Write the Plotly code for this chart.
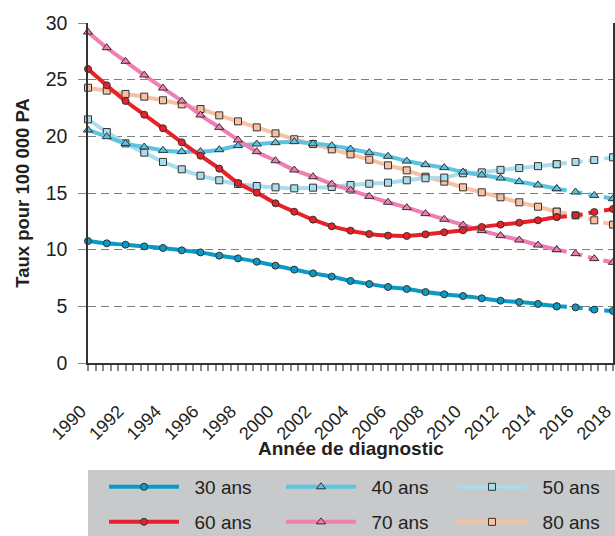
import plotly.graph_objects as go

years = list(range(1990, 2019))
split_year = 2015
tick_years = list(range(1990, 2019, 2))
tick_labels = [str(y) for y in tick_years]

taux_30 = [10.76, 10.56, 10.44, 10.29, 10.15, 9.94, 9.76, 9.47, 9.23, 8.94, 8.59, 8.24,
           7.91, 7.62, 7.24, 6.97, 6.71, 6.53, 6.26, 6.06, 5.91, 5.71, 5.50, 5.38, 5.21,
           5.00, 4.91, 4.71, 4.59]
taux_40 = [20.56, 19.97, 19.38, 19.06, 18.76, 18.65, 18.65, 18.82, 19.18, 19.32, 19.44, 19.53,
           19.35, 19.18, 18.88, 18.56, 18.24, 17.82, 17.50, 17.24, 16.85, 16.59, 16.32, 16.00,
           15.71, 15.38, 15.09, 14.79, 14.50]
taux_50 = [21.50, 20.38, 19.38, 18.56, 17.74, 17.09, 16.53, 16.12, 15.79, 15.62, 15.50, 15.41,
           15.47, 15.53, 15.71, 15.82, 15.91, 16.12, 16.30, 16.36, 16.74, 16.82, 17.04, 17.20,
           17.37, 17.54, 17.74, 17.91, 18.15]
taux_60 = [25.94, 24.50, 23.12, 21.91, 20.71, 19.47, 18.29, 17.15, 15.88, 15.03, 14.09, 13.35,
           12.65, 12.06, 11.68, 11.38, 11.24, 11.21, 11.35, 11.53, 11.71, 12.00, 12.21, 12.38,
           12.59, 12.88, 13.03, 13.32, 13.59]
taux_70 = [29.20, 27.82, 26.62, 25.41, 24.26, 23.12, 21.88, 20.79, 19.68, 18.65, 17.85, 17.03,
           16.44, 15.79, 15.26, 14.70, 14.18, 13.71, 13.18, 12.68, 12.18, 11.68, 11.24, 10.85,
           10.41, 10.00, 9.65, 9.21, 8.88]
taux_80 = [24.29, 24.03, 23.74, 23.50, 23.18, 22.82, 22.41, 21.85, 21.32, 20.79, 20.26, 19.74,
           19.32, 18.85, 18.41, 17.94, 17.44, 17.00, 16.44, 16.00, 15.50, 15.06, 14.62, 14.18,
           13.79, 13.35, 13.03, 12.59, 12.21]

# name, values, colour, marker symbol, marker size
series = [
    ("30 ans", taux_30, "#0A9AC4", "circle", 7),
    ("40 ans", taux_40, "#5CC3E0", "triangle-up", 8),
    ("50 ans", taux_50, "#AADCEB", "square", 7),
    ("60 ans", taux_60, "#E82129", "circle", 7),
    ("70 ans", taux_70, "#F07EB2", "triangle-up", 8),
    ("80 ans", taux_80, "#F8C1A3", "square", 7),
]
draw_order = ["80 ans", "50 ans", "40 ans", "70 ans", "60 ans", "30 ans"]

# one small legend per series, laid out as 3 columns x 2 rows
legend_ids = ["legend", "legend2", "legend3", "legend4", "legend5", "legend6"]
legend_x = [0.1691, 0.4569, 0.7350]
legend_y = [0.0915, 0.0261]

FONT = "Liberation Sans, Arial, Helvetica, sans-serif"
PAD = "\u00a0\u00a0"

fig = go.Figure()
lookup = {s[0]: (i, s) for i, s in enumerate(series)}
for name in draw_order:
    idx, (_, vals, color, sym, msize) = lookup[name]
    xs = [y for y in years if y <= split_year]
    ys = [v for y, v in zip(years, vals) if y <= split_year]
    xd = [y for y in years if y >= split_year]
    yd = [v for y, v in zip(years, vals) if y >= split_year]
    marker = dict(symbol=sym, size=msize, color=color, line=dict(color="#333333", width=1))
    fig.add_trace(go.Scatter(
        x=xs, y=ys, mode="lines+markers", name=PAD + name, legend=legend_ids[idx],
        line=dict(color=color, width=4, shape="spline"),
        marker=marker, cliponaxis=False))
    fig.add_trace(go.Scatter(
        x=xd, y=yd, mode="lines+markers", name=name, showlegend=False,
        line=dict(color=color, width=4, shape="spline", dash="10px,6px"),
        marker=marker, cliponaxis=False))

legends = {}
for i, lid in enumerate(legend_ids):
    legends[lid] = dict(
        orientation="h", xref="container", yref="container",
        x=legend_x[i % 3], y=legend_y[i // 3], xanchor="left", yanchor="middle",
        bgcolor="rgba(0,0,0,0)", font=dict(size=19, color="#231F20"),
        itemwidth=70,
    )

fig.update_layout(
    width=615, height=536,
    margin=dict(l=88, r=2, t=23, b=173, autoexpand=False),
    paper_bgcolor="white", plot_bgcolor="white",
    font=dict(family=FONT, size=18, color="#231F20"),
    xaxis=dict(
        range=[1990, 2018], tickmode="array", tickvals=tick_years,
        ticktext=[t + "\u00a0\u00a0" for t in tick_labels],
        ticks="outside", ticklen=6, tickcolor="#888888", tickwidth=1.5,
        minor=dict(tick0=1990, dtick=0.4, ticks="outside", ticklen=6,
                   tickcolor="#888888", tickwidth=1.5, showgrid=False),
        showline=True, linecolor="#333333", linewidth=1.5, showgrid=False, zeroline=False,
        tickangle=-45, tickfont=dict(size=18), ticklabelstandoff=16,
        ticklabeloverflow="allow", automargin=False,
    ),
    yaxis=dict(
        range=[0, 30], tickmode="linear", tick0=0, dtick=5,
        ticks="outside", ticklen=8, tickcolor="#888888", tickwidth=1.2,
        showgrid=True, gridcolor="#7F7F7F", gridwidth=1.2, griddash="8px,5px",
        showline=True, mirror=True, linecolor="#333333", linewidth=1.5, zeroline=False,
        tickfont=dict(size=19.5), ticklabelstandoff=7, automargin=False,
        title=dict(text="<b>Taux pour 100 000 PA</b>", font=dict(size=18.5), standoff=11),
    ),
    annotations=[dict(text="<b>Année de diagnostic</b>", xref="paper", yref="paper",
                      x=0.5, y=-0.2529, xanchor="center", yanchor="middle",
                      showarrow=False, font=dict(size=19, color="#231F20"))],
    shapes=[dict(type="rect", xref="paper", yref="paper", layer="below",
                 x0=0, x1=1.01, y0=-0.3147, y1=-0.52,
                 fillcolor="#C8C9CB", line=dict(width=0))],
    **legends,
)

fig.write_html("out.html", config={"displayModeBar": False},
               post_script="document.body.style.margin='0px';document.body.style.padding='0px';")
